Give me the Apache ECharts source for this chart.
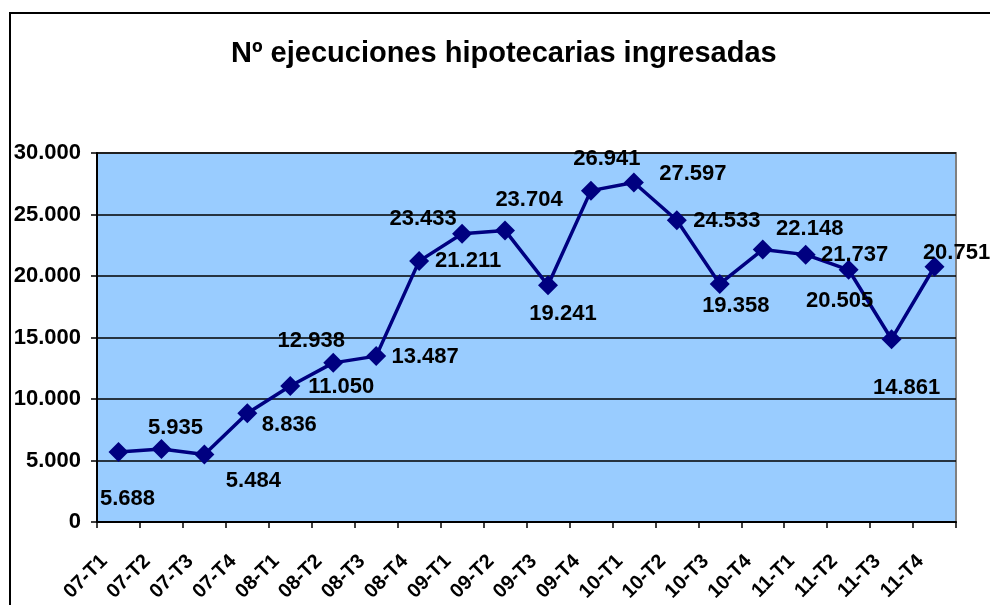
<!DOCTYPE html>
<html>
<head>
<meta charset="utf-8">
<script src="https://cdn.jsdelivr.net/npm/echarts@6/dist/echarts.min.js"></script>
<style>
  html,body{margin:0;padding:0;background:#fff;}
  .demo{width:990px;height:605px;}
</style>
</head>
<body>
<div class="demo"></div>
<script>
const categories = ['07-T1','07-T2','07-T3','07-T4','08-T1','08-T2','08-T3','08-T4','09-T1','09-T2','09-T3','09-T4','10-T1','10-T2','10-T3','10-T4','11-T1','11-T2','11-T3','11-T4']
const ejecuciones = [5688,5935,5484,8836,11050,12938,13487,21211,23433,23704,19241,26941,27597,24533,19358,22148,21737,20505,14861,20751]
const yTicks = [0,5000,10000,15000,20000,25000,30000]
// where each value label sits relative to its marker (px)
const labelOffsets = [[9,47],[14,-21],[49,26],[42,12],[51,1],[-22,-22],[49,1],[49,0],[-39,-15],[24,-31],[15,29],[16,-32],[59,-9],[50,1],[16,22],[47,-21],[49,0],[-9,31],[15,49],[22,-14]]

;(function(){
  const chartinstance = echarts.init(document.querySelector('.demo'))
  const font = 'Arial, "Liberation Sans", sans-serif'
  const fmt = v => String(v).replace(/\B(?=(\d{3})+(?!\d))/g, '.')
  const points = ejecuciones.map((v,i)=>({
    value:v,
    label:{offset:labelOffsets[i]}
  }))
  const option = {
    animation:false,
    backgroundColor:'#fff',
    title:{
      text:'Nº ejecuciones hipotecarias ingresadas',
      left:226,
      top:34,
      textStyle:{fontFamily:font,fontWeight:'bold',fontSize:29,color:'#000'}
    },
    graphic:[{
      type:'rect',
      shape:{x:10,y:13,width:1100,height:800},
      style:{fill:'none',stroke:'#000',lineWidth:2}
    }],
    grid:{
      left:97,right:34,top:153,bottom:83,
      show:true,
      backgroundColor:'#99ccff',
      borderColor:'#808080',
      borderWidth:2
    },
    xAxis:{
      type:'category',
      data:categories,
      boundaryGap:true,
      axisLine:{lineStyle:{color:'#000',width:2}},
      axisTick:{show:true,length:6,lineStyle:{color:'#000',width:1.5}},
      axisLabel:{
        rotate:45,
        margin:22,
        padding:[0,20,0,0],
        interval:0,
        fontFamily:font,fontWeight:'bold',fontSize:20,color:'#000'
      }
    },
    yAxis:{
      type:'value',
      min:yTicks[0],
      max:yTicks[yTicks.length-1],
      interval:yTicks[1]-yTicks[0],
      axisLine:{show:true,lineStyle:{color:'#000',width:2}},
      axisTick:{show:true,length:6,lineStyle:{color:'#000',width:1.5}},
      splitLine:{lineStyle:{color:'#000',width:1.5}},
      axisLabel:{
        margin:16,
        formatter:fmt,
        fontFamily:font,fontWeight:'bold',fontSize:22,color:'#000'
      }
    },
    series:[{
      name:'Ejecuciones',
      type:'line',
      data:points,
      symbol:'diamond',
      symbolSize:20,
      itemStyle:{color:'#000080'},
      lineStyle:{color:'#000080',width:3.5},
      label:{
        show:true,
        position:'inside',
        formatter:p=>fmt(p.value),
        fontFamily:font,fontWeight:'bold',fontSize:22,color:'#000'
      }
    }]
  }
  option && chartinstance.setOption(option)
  window.addEventListener('resize',()=>{
    chartinstance.resize();
  })
})();
</script>
</body>
</html>
